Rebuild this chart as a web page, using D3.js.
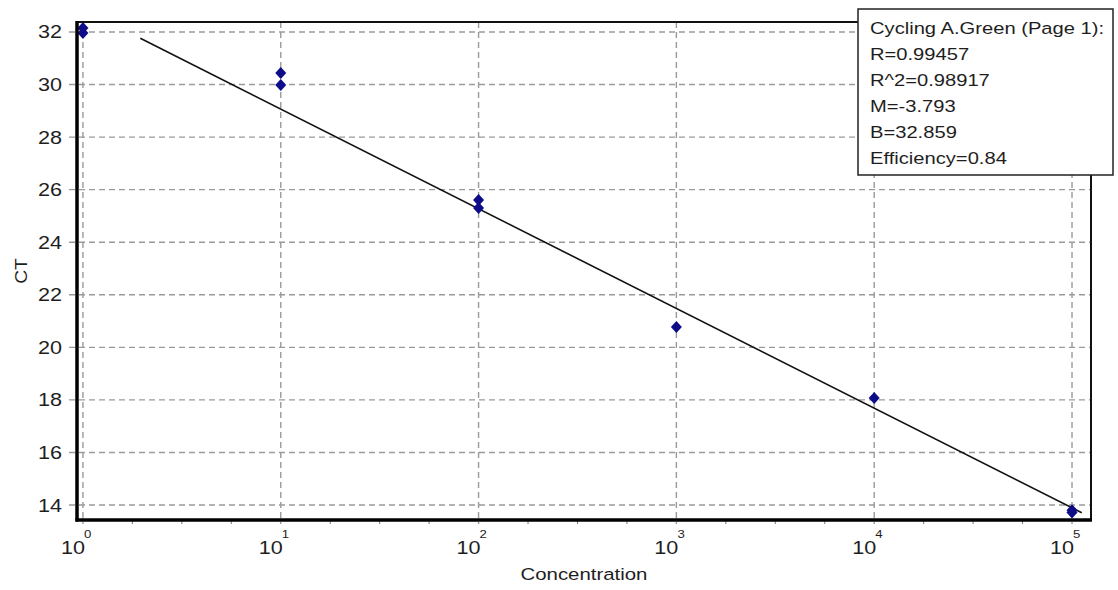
<!DOCTYPE html>
<html>
<head>
<meta charset="utf-8">
<script src="https://cdn.jsdelivr.net/npm/d3@7"></script>
<style>
  body { margin: 0; background: #fff; }
  text { font-family: "Liberation Sans", Arial, sans-serif; fill: #1e1e1e; }
</style>
</head>
<body>
<script>
// samples: concentration and measured CT
const concentration = [1, 1, 10, 10, 100, 100, 1000, 10000, 100000, 100000];
const ctValues = [32.15, 31.96, 30.44, 29.98, 25.61, 25.30, 20.77, 18.07, 13.80, 13.72];

// fitted standard curve
const slopeM = -3.793;
const interceptB = 32.859;
const fitRange = [1.95, 112000];

const xTicks = [1, 10, 100, 1000, 10000, 100000];
const xExponents = ["0", "1", "2", "3", "4", "5"];
const yTicks = [14, 16, 18, 20, 22, 24, 26, 28, 30, 32];

const legendLines = [
  "Cycling A.Green (Page 1):",
  "R=0.99457",
  "R^2=0.98917",
  "M=-3.793",
  "B=32.859",
  "Efficiency=0.84"
];

const width = 1118;
const height = 590;
const plotLeft = 77, plotRight = 1091, plotTop = 22, plotBottom = 520;
const stretch = 1.2;

const x = d3.scaleLog().domain([Math.pow(10, -0.03), Math.pow(10, 5.096)]).range([plotLeft, plotRight]);
const y = d3.scaleLinear().domain([13.43, 32.38]).range([plotBottom, plotTop]);

const svg = d3.select("body").append("svg")
  .attr("width", width)
  .attr("height", height);

svg.append("rect").attr("width", width).attr("height", height).attr("fill", "#fff");

// text helper, the original font is drawn a bit wider than normal
function label(g, tx, ty, str, size, anchor) {
  return g.append("text")
    .attr("transform", `translate(${tx},${ty}) scale(${stretch},1)`)
    .attr("text-anchor", anchor || "start")
    .style("font-size", size + "px")
    .text(str);
}

// grid
const grid = svg.append("g")
  .attr("stroke", "#9a9a9a")
  .attr("stroke-width", 1.4)
  .attr("stroke-dasharray", "6,4");

grid.selectAll(".vg").data(xTicks).join("line")
  .attr("class", "vg")
  .attr("x1", d => x(d)).attr("x2", d => x(d))
  .attr("y1", plotTop).attr("y2", plotBottom + 4);

grid.selectAll(".hg").data(yTicks).join("line")
  .attr("class", "hg")
  .attr("x1", plotLeft - 8).attr("x2", plotRight)
  .attr("y1", d => y(d)).attr("y2", d => y(d));

// minor ticks on x, every quarter decade
const minor = [];
for (let e = 0; e < 5; e++) {
  for (let q = 1; q < 4; q++) minor.push(Math.pow(10, e + q / 4));
}
svg.append("g").selectAll("line").data(minor).join("line")
  .attr("x1", d => x(d)).attr("x2", d => x(d))
  .attr("y1", plotBottom).attr("y2", plotBottom + 4)
  .attr("stroke", "#777").attr("stroke-width", 1);

// fit line
const fitLine = d3.line()
  .x(d => x(d))
  .y(d => y(interceptB + slopeM * Math.log10(d)));
svg.append("path")
  .attr("d", fitLine(fitRange))
  .attr("fill", "none")
  .attr("stroke", "#111")
  .attr("stroke-width", 1.6);

// points
const pts = concentration.map((c, i) => ({ c, ct: ctValues[i] }));
svg.append("g").selectAll("path").data(pts).join("path")
  .attr("transform", d => `translate(${x(d.c)},${y(d.ct)})`)
  .attr("d", "M0,-6L5.5,0L0,6L-5.5,0Z")
  .attr("fill", "#0d0d8a");

// frame
svg.append("line").attr("x1", plotLeft).attr("x2", plotRight).attr("y1", plotTop).attr("y2", plotTop)
  .attr("stroke", "#111").attr("stroke-width", 2);
svg.append("line").attr("x1", plotRight).attr("x2", plotRight).attr("y1", plotTop).attr("y2", plotBottom)
  .attr("stroke", "#111").attr("stroke-width", 2);
svg.append("line").attr("x1", plotLeft).attr("x2", plotLeft).attr("y1", plotTop - 1).attr("y2", plotBottom + 1.5)
  .attr("stroke", "#000").attr("stroke-width", 3.5);
svg.append("line").attr("x1", plotLeft - 1.5).attr("x2", plotRight + 1).attr("y1", plotBottom).attr("y2", plotBottom)
  .attr("stroke", "#000").attr("stroke-width", 3.5);

// y tick labels
const yl = svg.append("g");
yTicks.forEach(t => label(yl, 62, y(t) + 6.5, String(t), 18, "end"));

// x tick labels: 10 with exponent
const xl = svg.append("g");
xTicks.forEach((t, i) => {
  label(xl, x(t) + 2, 554, "10", 18, "end");
  label(xl, x(t) + 1, 538, xExponents[i], 11, "start");
});

// axis titles
label(svg, (plotLeft + plotRight) / 2, 580, "Concentration", 17, "middle");
svg.append("text")
  .attr("transform", `translate(27,${(plotTop + plotBottom) / 2}) rotate(-90) scale(${stretch},1)`)
  .attr("text-anchor", "middle")
  .style("font-size", "16px")
  .text("CT");

// legend box
const lg = svg.append("g");
lg.append("rect")
  .attr("x", 858).attr("y", 9)
  .attr("width", 255).attr("height", 166)
  .attr("fill", "#fff")
  .attr("stroke", "#222")
  .attr("stroke-width", 1.5);
legendLines.forEach((s, i) => label(lg, 870, 34 + i * 26, s, 16.8, "start"));
</script>
</body>
</html>
